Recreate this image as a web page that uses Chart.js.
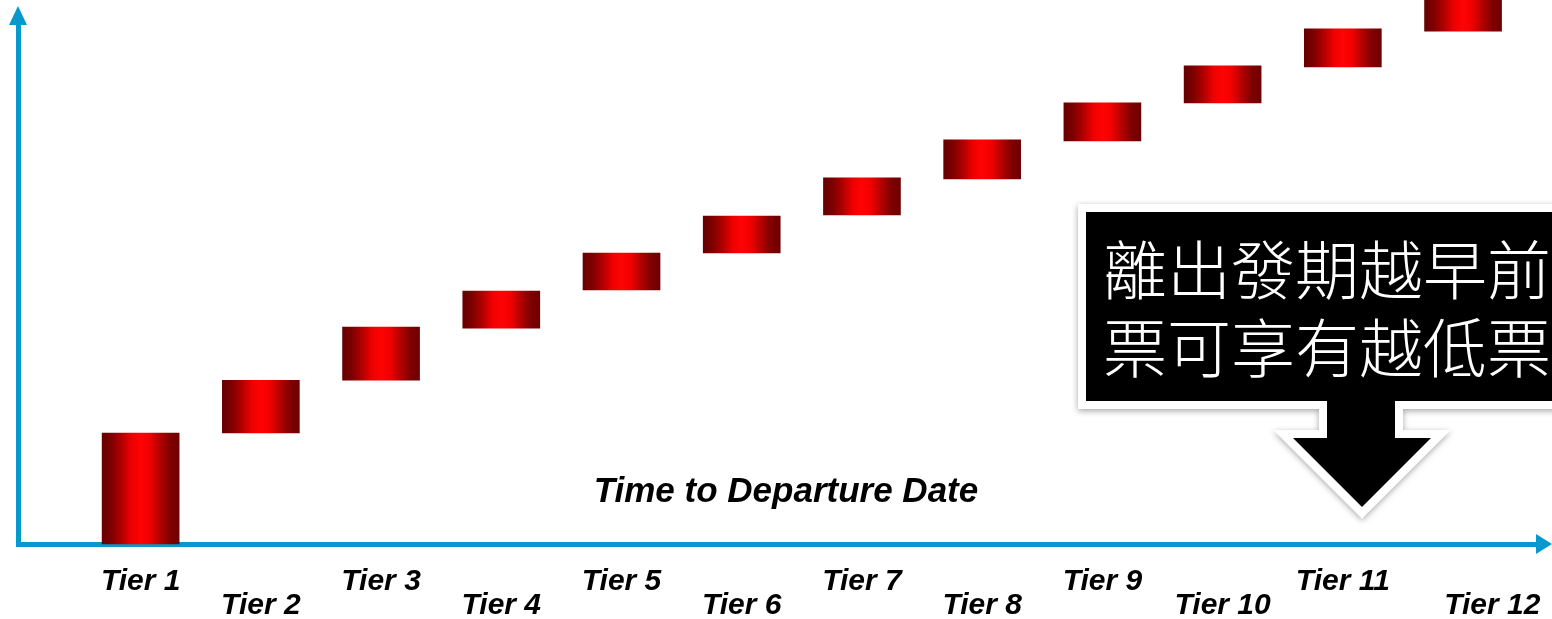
<!DOCTYPE html>
<html>
<head>
<meta charset="utf-8">
<script src="https://cdn.jsdelivr.net/npm/chart.js@4/dist/chart.umd.min.js"></script>
<style>
  html, body { margin: 0; padding: 0; background: #fff; }
  body { width: 1552px; height: 619px; overflow: hidden; position: relative; }
  #wrap { position: absolute; left: 0; top: 0; width: 1552px; height: 619px; }
  #callout { position: absolute; left: 0; top: 0; width: 1552px; height: 619px; pointer-events: none; }
  #calloutText {
    position: absolute; left: 1103px; top: 227px; width: 520px;
    font-family: "Noto Sans CJK TC", "Noto Sans CJK SC", sans-serif;
    font-size: 64px; line-height: 78px; color: #fff; white-space: nowrap; font-weight: 300;
  }
</style>
</head>
<body>
<div id="wrap"><canvas id="c" width="1552" height="619"></canvas></div>
<svg id="callout" width="1552" height="619" xmlns="http://www.w3.org/2000/svg">
  <defs>
    <filter id="sh" x="-10%" y="-10%" width="130%" height="130%">
      <feDropShadow dx="0" dy="2" stdDeviation="3" flood-color="#000" flood-opacity="0.35"/>
    </filter>
  </defs>
  <path d="M1086 212 L1600 212 L1600 401 L1395 401 L1395 438 L1431 438 L1362 507 L1293 438 L1327 438 L1327 401 L1086 401 Z"
        fill="#000" stroke="#fff" stroke-width="16" stroke-linejoin="miter" paint-order="stroke" filter="url(#sh)"/>
</svg>
<div id="calloutText">離出發期越早前<br>票可享有越低票</div>
<script>
const tiers = ['Tier 1','Tier 2','Tier 3','Tier 4','Tier 5','Tier 6','Tier 7','Tier 8','Tier 9','Tier 10','Tier 11','Tier 12'];
const lows  = [0, 20.4, 30.1, 39.7, 46.7, 53.5, 60.5, 67.1, 74.1, 81.1, 87.7, 94.3];
const highs = [20.4, 30.1, 39.9, 46.5, 53.5, 60.3, 67.3, 74.3, 81.1, 87.9, 94.7, 101.5];
const axisTitle = 'Time to Departure Date';

const AXIS_BLUE = '#0799cd';

function barGradient(ctx) {
  const chart = ctx.chart;
  const xs = chart.scales && chart.scales.x;
  if (!chart.chartArea || !xs || ctx.type !== 'data') return '#e00000';
  const cx = xs.getPixelForValue(ctx.dataIndex + 1);
  const half = 38.5;
  const g = chart.ctx.createLinearGradient(cx - half, 0, cx + half, 0);
  g.addColorStop(0.00, '#660000');
  g.addColorStop(0.12, '#7e0000');
  g.addColorStop(0.25, '#b00000');
  g.addColorStop(0.38, '#ee0000');
  g.addColorStop(0.50, '#ff0303');
  g.addColorStop(0.62, '#f00000');
  g.addColorStop(0.75, '#b40000');
  g.addColorStop(0.88, '#800000');
  g.addColorStop(1.00, '#6e0000');
  return g;
}

const decor = {
  id: 'decor',
  afterDraw(chart) {
    const c = chart.ctx;
    c.save();
    c.fillStyle = AXIS_BLUE;
    // y-axis arrowhead
    c.beginPath();
    c.moveTo(18, 6);
    c.lineTo(27, 25);
    c.lineTo(9, 25);
    c.closePath();
    c.fill();
    // x-axis arrowhead
    c.beginPath();
    c.moveTo(1552, 544);
    c.lineTo(1536, 534);
    c.lineTo(1536, 554);
    c.closePath();
    c.fill();
    // axis title (inside plot)
    c.fillStyle = '#000';
    c.font = 'italic bold 35px "Liberation Sans", Arial, sans-serif';
    c.textAlign = 'center';
    c.textBaseline = 'alphabetic';
    c.fillText(axisTitle, 786, 502);
    c.restore();
  }
};

new Chart(document.getElementById('c'), {
  type: 'bar',
  data: {
    datasets: [{
      data: tiers.map((t, i) => ({ x: i + 1, y: [lows[i], highs[i]] })),
      backgroundColor: barGradient,
      borderWidth: 0,
      barThickness: 77,
      clip: false
    }]
  },
  options: {
    responsive: false,
    animation: false,
    devicePixelRatio: 1,
    layout: { padding: { top: 24, right: 12, left: 0, bottom: 0 } },
    plugins: { legend: { display: false }, tooltip: { enabled: false }, title: { display: false } },
    scales: {
      x: {
        type: 'linear',
        offset: false,
        min: -0.02,
        max: 12.64,
        afterBuildTicks(scale) { scale.ticks = tiers.map((t, i) => ({ value: i + 1 })); },
        afterFit(scale) { scale.height = 75; scale.paddingLeft = 0; scale.paddingRight = 0; },
        grid: { display: false, drawTicks: false, offset: false },
        border: { display: true, color: AXIS_BLUE, width: 5 },
        ticks: {
          autoSkip: false,
          maxRotation: 0,
          minRotation: 0,
          padding: 26,
          color: '#000',
          font: { family: '"Liberation Sans", Arial, sans-serif', size: 30, style: 'italic', weight: 'bold', lineHeight: '24px' },
          callback(value) {
            const i = Math.round(value) - 1;
            if (i < 0 || i >= tiers.length) return '';
            const txt = (i === tiers.length - 1) ? '       ' + tiers[i] : tiers[i];
            return (i % 2 === 0) ? [txt] : ['', txt];
          }
        }
      },
      y: {
        type: 'linear',
        min: 0,
        max: 95.6,
        afterFit(scale) { scale.width = 18; scale.paddingTop = 0; scale.paddingBottom = 0; },
        grid: { display: false, drawTicks: false },
        border: { display: true, color: AXIS_BLUE, width: 5 },
        ticks: { display: false }
      }
    }
  },
  plugins: [decor]
});
</script>
</body>
</html>
